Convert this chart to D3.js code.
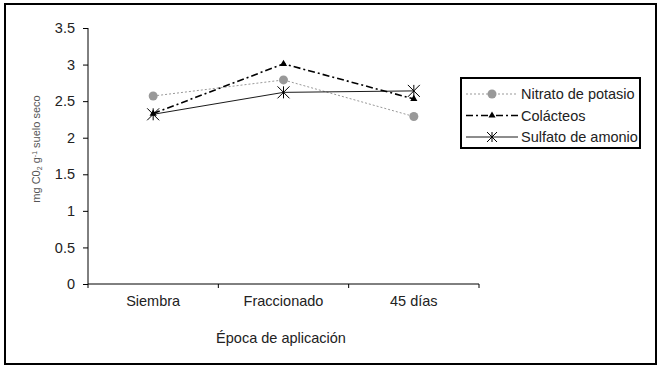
<script src='https://d3js.org/d3.v7.min.js'></script>
<style>body{margin:0;background:#fff;} text{font-family:'Liberation Sans',Arial,sans-serif;}</style>
<svg id='chart' width='661' height='371'></svg>
<script>
var categories=['Siembra','Fraccionado','45 días'],
    yTicks=[0,0.5,1,1.5,2,2.5,3,3.5],
    seriesNames=['Nitrato de potasio','Colácteos','Sulfato de amonio'],
    nitrato=[2.57,2.79,2.29],
    colacteos=[2.33,3.01,2.53],
    sulfato=[2.32,2.62,2.64];
var series=[
  {name:seriesNames[0],values:nitrato,color:'#999',dash:'2,2',width:1,marker:'circle'},
  {name:seriesNames[1],values:colacteos,color:'#000',dash:'7,3,2,3',width:1.6,marker:'triangle'},
  {name:seriesNames[2],values:sulfato,color:'#000',dash:null,width:0.9,marker:'star'}];

var svg=d3.select('#chart');
svg.append('rect').attr('x',5).attr('y',4).attr('width',651).attr('height',360)
   .attr('fill','none').attr('stroke','#000').attr('stroke-width',2);

var x=d3.scaleBand().domain(categories).range([88,479]),
    y=d3.scaleLinear().domain([0,3.5]).range([284,28]);

var yAx=svg.append('g').attr('transform','translate(88,0)')
   .call(d3.axisLeft(y).tickValues(yTicks).tickSize(5).tickPadding(8)
        .tickFormat(function(d){return String(d);}));
yAx.select('.domain').attr('d','M0,'+y(3.5)+'V'+y(0));
yAx.selectAll('text').attr('font-size',14.5).attr('font-family','Liberation Sans, Arial').attr('fill','#222');

var xAx=svg.append('g').attr('transform','translate(0,284)')
   .call(d3.axisBottom(x).tickSize(0).tickPadding(12));
xAx.select('.domain').attr('d','M88,0H479');
xAx.selectAll('text').attr('font-size',14.5).attr('font-family','Liberation Sans, Arial').attr('fill','#222');
// boundary ticks between categories
var bounds=[88].concat(categories.map(function(c){return x(c)+x.bandwidth();}));
xAx.selectAll('.btick').data(bounds).enter().append('line')
   .attr('x1',function(d){return d;}).attr('x2',function(d){return d;})
   .attr('y1',0).attr('y2',4).attr('stroke','#000');

svg.append('text').attr('x',281).attr('y',343).attr('text-anchor','middle')
   .attr('font-size',14.5).attr('fill','#222').text('Época de aplicación');
var yt=svg.append('text').attr('transform','translate(40,149) rotate(-90)')
   .attr('text-anchor','middle').attr('font-size',11).attr('fill','#555');
yt.append('tspan').text('mg C0');
yt.append('tspan').attr('font-size',7).attr('dy',2).text('2');
yt.append('tspan').attr('dy',-2).text(' g');
yt.append('tspan').attr('font-size',7).attr('dy',-3).text('-1');
yt.append('tspan').attr('dy',3).text(' suelo seco');

var cx=function(i){return x(categories[i])+x.bandwidth()/2;};
var line=d3.line().x(function(d,i){return cx(i);}).y(function(d){return y(d);});

function marker(g,type,px,py,s){
  if(type==='circle') g.append('circle').attr('cx',px).attr('cy',py).attr('r',4.5).attr('fill','#999');
  else if(type==='triangle') g.append('path').attr('d',d3.symbol().type(d3.symbolTriangle).size(22)())
        .attr('transform','translate('+px+','+py+')').attr('fill','#000');
  else {
    g.append('path').attr('d','M'+(px-s)+','+(py-s)+'L'+(px+s)+','+(py+s)+'M'+(px-s)+','+(py+s)+'L'+(px+s)+','+(py-s)+'M'+px+','+(py-s)+'V'+(py+s))
     .attr('stroke','#000').attr('stroke-width',1).attr('fill','none');
  }
}

series.forEach(function(s){
  svg.append('path').datum(s.values).attr('d',line).attr('fill','none')
     .attr('stroke',s.color).attr('stroke-width',s.width)
     .attr('stroke-dasharray',s.dash);
});
series.forEach(function(s){
  s.values.forEach(function(v,i){marker(svg,s.marker,cx(i),y(v),6);});
});

// legend
var lg=svg.append('g');
lg.append('rect').attr('x',461).attr('y',78).attr('width',179).attr('height',70)
  .attr('fill','#fff').attr('stroke','#000').attr('stroke-width',2);
series.forEach(function(s,i){
  var ly=94+i*21.5;
  lg.append('line').attr('x1',466).attr('x2',518).attr('y1',ly).attr('y2',ly)
    .attr('stroke',s.color).attr('stroke-width',s.width).attr('stroke-dasharray',s.dash);
  marker(lg,s.marker,492,ly,5);
  lg.append('text').attr('x',521).attr('y',ly+5).attr('font-size',14.5).attr('fill','#222').text(s.name);
});
</script>
